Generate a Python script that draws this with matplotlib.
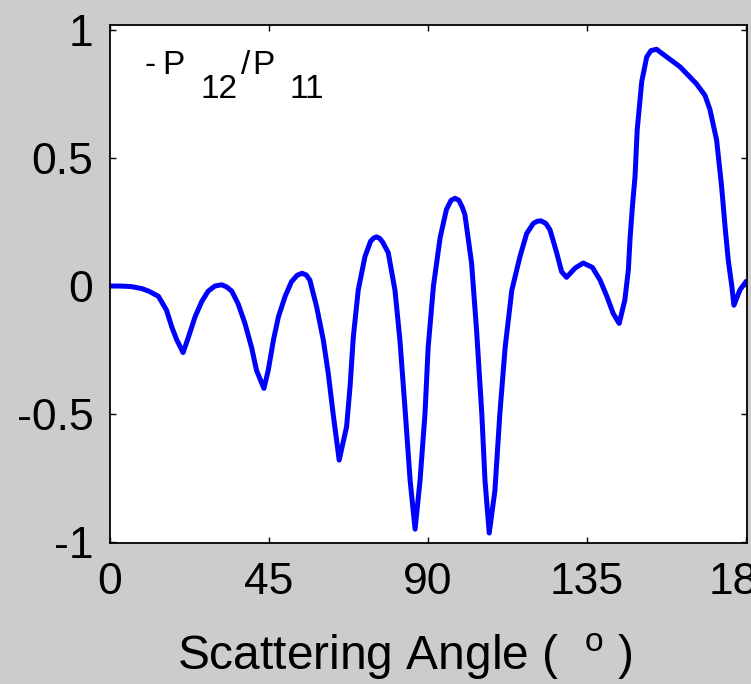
import numpy as np
import matplotlib
matplotlib.use("Agg")
import matplotlib.pyplot as plt

# scattering angle (deg) and -P12/P11
angle = [0, 3, 6, 9, 11, 13.7, 16, 17.5, 18.9, 20.7, 22.2, 24.1, 26, 27.8, 29.7,
         31.6, 33.0, 34.5, 36.3, 38.2, 40.1, 41.5, 43.6, 44.8, 46.3, 47.7, 49.6,
         51.4, 53.0, 54.4, 55.6, 56.6, 58.5, 60.4, 61.8, 63.2, 64.9, 67.0, 68.0,
         68.9, 70.3, 72.2, 73.8, 74.7, 75.5, 76.4, 77.2, 78.8, 80.7, 82.1, 83.5,
         85.0, 86.4, 87.8, 89.2, 90.1, 91.6, 93.5, 95.3, 96.6, 97.7, 98.8, 99.7,
         100.5, 102.4, 103.8, 105.3, 106.2, 107.4, 109.0, 110.4, 111.9, 113.8,
         116.1, 118.0, 119.9, 121.0, 122.0, 123.4, 124.6, 126.5, 127.9, 129.3,
         131.7, 134.0, 136.6, 138.8, 140.7, 142.5, 144.2, 145.8, 146.8, 147.3,
         148.0, 148.7, 149.3, 150.6, 152.0, 153.2, 154.8, 157.2, 161.4, 166.1,
         168.5, 169.9, 171.8, 173.2, 174.2, 175.1, 176.1, 176.7, 178.4, 180.0]
p12_p11 = [0.0, 0.0, -0.002, -0.01, -0.02, -0.04, -0.094, -0.16, -0.21, -0.26,
           -0.2, -0.12, -0.06, -0.02, 0.0, 0.005, -0.003, -0.02, -0.07, -0.145,
           -0.24, -0.33, -0.40, -0.33, -0.21, -0.12, -0.04, 0.017, 0.042, 0.05,
           0.043, 0.023, -0.08, -0.21, -0.34, -0.50, -0.68, -0.55, -0.39, -0.20,
           -0.016, 0.115, 0.175, 0.188, 0.192, 0.186, 0.172, 0.13, -0.016, -0.21,
           -0.47, -0.76, -0.95, -0.76, -0.50, -0.24, 0.0, 0.19, 0.30, 0.335, 0.343,
           0.335, 0.31, 0.28, 0.09, -0.17, -0.50, -0.76, -0.965, -0.80, -0.50,
           -0.24, -0.016, 0.115, 0.205, 0.245, 0.253, 0.255, 0.245, 0.22, 0.13,
           0.056, 0.034, 0.07, 0.09, 0.073, 0.023, -0.04, -0.107, -0.146, -0.055,
           0.063, 0.19, 0.32, 0.43, 0.61, 0.80, 0.895, 0.92, 0.925, 0.90, 0.857,
           0.79, 0.745, 0.69, 0.57, 0.39, 0.23, 0.10, 0.0, -0.075, -0.015, 0.015]

xticks = [0, 45, 90, 135, 180]
yticks = [-1, -0.5, 0, 0.5, 1]
yticklabels = ["-1", "-0.5", "0", "0.5", "1"]

plt.rcParams["font.family"] = ["Liberation Sans", "DejaVu Sans"]
plt.rcParams["mathtext.fontset"] = "custom"
plt.rcParams["mathtext.rm"] = "Liberation Sans"
plt.rcParams["axes.unicode_minus"] = False

fig = plt.figure(figsize=(7.51, 6.84), dpi=100, facecolor="#cccccc")
ax = fig.add_axes([110 / 751, 141 / 684, 637 / 751, 518 / 684])
ax.set_facecolor("white")

ax.plot(angle, p12_p11, color="#0000ff", linewidth=3.6, solid_joinstyle="round")

ax.set_xlim(0, 180.4)
ax.set_ylim(-1.004, 1.02)
ax.set_xticks(xticks)
ax.set_yticks(yticks)
ax.set_yticklabels(yticklabels)
ax.tick_params(direction="in", length=4, width=1, top=True, right=True,
               labelsize=32, colors="black")
ax.tick_params(axis="x", pad=14)
ax.tick_params(axis="y", pad=12)
for s in ax.spines.values():
    s.set_linewidth(1.3)

# x label sits left of centre in the original
ax.set_xlabel(r"Scattering Angle (  $^{\mathrm{o}}$ )", fontsize=34.5)
ax.xaxis.label.set_horizontalalignment("left")
ax.xaxis.label.set_verticalalignment("baseline")
ax.xaxis.set_label_coords((177 - 110) / 637, -(670 - 543) / 518)

# -P12/P11 label, subscripts drawn full size and lowered like the original
fs = 24
pieces = [("-", 145, 74), ("P", 162, 74), ("12", 200, 98),
          ("/", 241, 74), ("P", 252, 74), ("11", 289, 98)]
for txt, px, py in pieces:
    fig.text(px / 751, 1 - py / 684, txt, fontsize=fs, va="baseline")

fig.savefig("out.png", dpi=100, facecolor=fig.get_facecolor())
